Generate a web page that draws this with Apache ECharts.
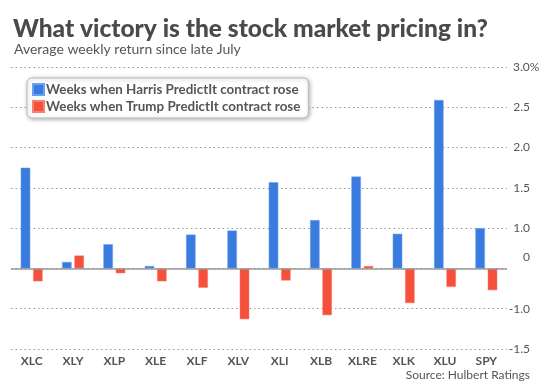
<!DOCTYPE html>
<html>
<head>
<meta charset="utf-8">
<script src="https://cdn.jsdelivr.net/npm/echarts@6/dist/echarts.min.js"></script>
<style>
html,body{margin:0;padding:0;background:#fff;}
#chart{width:550px;height:389px;}
</style>
</head>
<body>
<div id="chart"></div>
<script>
var categories = ['XLC','XLY','XLP','XLE','XLF','XLV','XLI','XLB','XLRE','XLK','XLU','SPY'];
var harrisValues = [1.25, 0.08, 0.30, 0.03, 0.42, 0.47, 1.07, 0.60, 1.14, 0.43, 2.09, 0.50];
var trumpValues = [-0.16, 0.16, -0.06, -0.16, -0.24, -0.63, -0.15, -0.58, 0.03, -0.43, -0.23, -0.27];
// printed tick labels, from bottom gridline to top gridline
var tickLabels = ['-1.5', '-1.0', '0', '1.0', '1.5', '2.0', '2.5', '3.0%'];
var seriesNames = ['Weeks when Harris PredictIt contract rose', 'Weeks when Trump PredictIt contract rose'];

var axisMin = -1.0, axisStep = 0.5, axisMax = 2.5;
var font = 'Lato, "Open Sans", sans-serif';

var chart = echarts.init(document.getElementById('chart'));
chart.setOption({
  backgroundColor: '#fff',
  animation: false,
  textStyle: { fontFamily: font },
  title: [
    { text: 'What victory is the stock market pricing in?', left: 8, top: 12,
      textStyle: { fontFamily: font, fontSize: 24.5, fontWeight: 900, color: '#4a4a4a' } },
    { text: 'Average weekly return since late July', left: 9, top: 37,
      textStyle: { fontFamily: font, fontSize: 14, fontWeight: 'normal', color: '#555' } }
  ],
  legend: {
    orient: 'vertical', left: 27, top: 78,
    padding: [5, 8, 5, 5], itemGap: 4, itemWidth: 11, itemHeight: 11,
    backgroundColor: '#fff', borderColor: '#bbb', borderWidth: 1, borderRadius: 5,
    shadowColor: 'rgba(0,0,0,0.3)', shadowBlur: 4, shadowOffsetX: 1, shadowOffsetY: 1,
    icon: 'rect',
    textStyle: { fontFamily: font, fontSize: 13.4, fontWeight: 'bold', color: '#555', padding: [0, 0, 0, -3] },
    data: seriesNames
  },
  grid: { left: 11, right: 43, top: 67, bottom: 40 },
  xAxis: {
    type: 'category', data: categories,
    axisLine: { show: false }, axisTick: { show: false },
    axisLabel: { margin: 6, fontFamily: font, fontSize: 12, fontWeight: 'bold', color: '#555' }
  },
  yAxis: {
    type: 'value', position: 'right', min: axisMin, max: axisMax, interval: axisStep,
    axisLine: { show: false }, axisTick: { show: false },
    splitLine: { lineStyle: { type: [1.5, 3], color: '#999', width: 1 } },
    axisLabel: {
      margin: 23, align: 'right', fontFamily: font, fontSize: 12, color: '#555',
      formatter: function (v) {
        var i = Math.round((v - axisMin) / axisStep);
        var t = tickLabels[i];
        if (t === '0') return '{z|0}';
        if (t.indexOf('%') >= 0) return '{p|' + t + '}';
        return t;
      },
      rich: {
        z: { fontFamily: font, fontSize: 12, color: '#555', padding: [0, 0, 22, 0] },
        p: { fontFamily: font, fontSize: 12, color: '#555', width: 17, align: 'left' }
      }
    }
  },
  series: [
    { name: seriesNames[0], type: 'bar', data: harrisValues, barWidth: '23%', barGap: '30%',
      itemStyle: { color: '#3a7be0', borderColor: '#6b9ff0', borderWidth: 0.5 },
      markLine: { silent: true, symbol: 'none', label: { show: false },
        lineStyle: { type: 'solid', color: '#999', width: 1.5 }, data: [{ yAxis: 0 }] },
      z: 3 },
    { name: seriesNames[1], type: 'bar', data: trumpValues, barWidth: '23%',
      itemStyle: { color: '#f5503c', borderColor: '#f88070', borderWidth: 0.5 }, z: 3 }
  ],
  graphic: [
    { type: 'text', right: 20, top: 369,
      style: { text: 'Source: Hulbert Ratings', fontFamily: font, fontSize: 12, fill: '#555' } }
  ]
});
</script>
</body>
</html>
